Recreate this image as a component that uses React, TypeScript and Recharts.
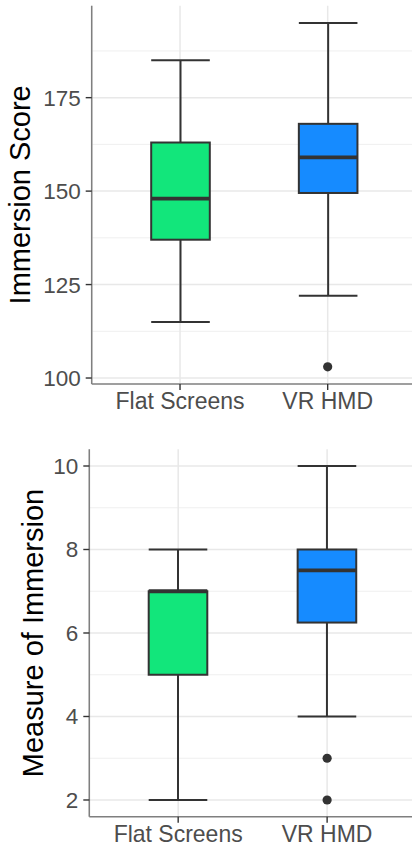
import { ComposedChart, Bar, XAxis, YAxis, CartesianGrid, ReferenceDot } from "recharts";

const groups = ["Flat Screens", "VR HMD"];
const boxFills = ["#12E67B", "#168BFF"];

// top panel: Immersion Score
const scoreLow = [115, 122];
const scoreQ1 = [137, 149.5];
const scoreMedian = [148, 159];
const scoreQ3 = [163, 168];
const scoreHigh = [185, 195];
const scoreOutliers = [[], [103]];
const scoreTicks = [100, 125, 150, 175];
const scoreMinor = [112.5, 137.5, 162.5, 187.5];

// bottom panel: Measure of Immersion
const measureLow = [2, 4];
const measureQ1 = [5, 6.25];
const measureMedian = [7, 7.5];
const measureQ3 = [7, 8];
const measureHigh = [8, 10];
const measureOutliers = [[], [3, 2]];
const measureTicks = [2, 4, 6, 8, 10];
const measureMinor = [3, 5, 7, 9];

const INK = "#333333";
const BORDER = "#7f7f7f";

function buildRows(low: number[], q1: number[], med: number[], q3: number[], high: number[]) {
  return groups.map((g, i) => ({
    group: g,
    low: low[i],
    q1: q1[i],
    median: med[i],
    q3: q3[i],
    high: high[i],
  }));
}

function BoxShape(props: any) {
  const { x, y, width, height, payload } = props;
  const idx = groups.indexOf(payload.group);
  const top = Math.min(y, y + height);
  const bottom = Math.max(y, y + height);
  const span = payload.high - payload.low;
  // linear map inside the bar's own low..high pixel range
  const py = (v: number) => bottom - ((v - payload.low) / span) * (bottom - top);
  const cx = x + width / 2;
  const yq3 = py(payload.q3);
  const yq1 = py(payload.q1);
  return (
    <g>
      <line x1={cx} x2={cx} y1={py(payload.high)} y2={yq3} stroke={INK} strokeWidth={2} />
      <line x1={cx} x2={cx} y1={yq1} y2={py(payload.low)} stroke={INK} strokeWidth={2} />
      <line x1={x} x2={x + width} y1={py(payload.high)} y2={py(payload.high)} stroke={INK} strokeWidth={2} />
      <line x1={x} x2={x + width} y1={py(payload.low)} y2={py(payload.low)} stroke={INK} strokeWidth={2} />
      <rect x={x} y={yq3} width={width} height={yq1 - yq3} fill={boxFills[idx]} stroke={INK} strokeWidth={2} />
      <line x1={x} x2={x + width} y1={py(payload.median)} y2={py(payload.median)} stroke={INK} strokeWidth={3.8} />
    </g>
  );
}

interface PanelProps {
  rows: ReturnType<typeof buildRows>;
  outliers: number[][];
  domain: [number, number];
  ticks: number[];
  minor: number[];
  title: string;
  titleX: number;
  axisWidth: number;
  top: number;
  height: number;
  marginTop: number;
  padX: number;
}

function Panel({ rows, outliers, domain, ticks, minor, title, titleX, axisWidth, top, height, marginTop, padX }: PanelProps) {
  return (
    <div style={{ position: "absolute", left: 0, top, width: 412, height, overflow: "hidden" }}>
      <ComposedChart width={418} height={height} data={rows} margin={{ top: marginTop, right: 2, bottom: 0, left: 0 }}>
        <CartesianGrid horizontalValues={minor} vertical={false} stroke="#efefef" strokeWidth={1} />
        <CartesianGrid horizontalValues={ticks} stroke="#e8e8e8" strokeWidth={1.5} />
        <XAxis
          dataKey="group"
          padding={{ left: padX, right: padX }}
          tickSize={6}
          tickMargin={3}
          height={30}
          tick={{ fontSize: 23, fill: "#4d4d4d" }}
          tickLine={{ stroke: INK, strokeWidth: 1.4 }}
          axisLine={{ stroke: BORDER, strokeWidth: 1.5 }}
        />
        <XAxis
          xAxisId="top"
          orientation="top"
          dataKey="group"
          padding={{ left: padX, right: padX }}
          height={0}
          tick={false}
          tickLine={false}
          axisLine={{ stroke: BORDER, strokeWidth: 1.5 }}
        />
        <YAxis
          type="number"
          domain={domain}
          ticks={ticks}
          allowDataOverflow
          width={axisWidth}
          tickSize={6}
          tickMargin={5}
          tick={{ fontSize: 22.5, fill: "#4d4d4d" }}
          tickLine={{ stroke: INK, strokeWidth: 1.4 }}
          axisLine={{ stroke: BORDER, strokeWidth: 1.5 }}
          label={{
            value: title,
            angle: -90,
            position: "insideLeft",
            offset: titleX,
            style: { textAnchor: "middle", fontSize: 29, fill: "#000000" },
          }}
        />
        <Bar dataKey={(d: any) => [d.low, d.high]} barSize={58.6} shape={BoxShape} isAnimationActive={false} />
        {rows.map((r, i) =>
          outliers[i].map((v, j) => (
            <ReferenceDot key={`${i}-${j}`} x={r.group} y={v} r={4.6} fill={INK} stroke="none" />
          ))
        )}
      </ComposedChart>
    </div>
  );
}

const scoreRows = buildRows(scoreLow, scoreQ1, scoreMedian, scoreQ3, scoreHigh);
const measureRows = buildRows(measureLow, measureQ1, measureMedian, measureQ3, measureHigh);

export default function App() {
  return (
    <div style={{ position: "absolute", left: 0, top: 0, width: 412, height: 847, background: "#fff", fontFamily: "'Liberation Sans', Arial, sans-serif" }}>
      <Panel
        rows={scoreRows}
        outliers={scoreOutliers}
        domain={[98.4, 199.6]}
        ticks={scoreTicks}
        minor={scoreMinor}
        title="Immersion Score"
        titleX={20}
        axisWidth={91.7}
        top={0}
        height={414}
        marginTop={5.7}
        padX={14.5}
      />
      <Panel
        rows={measureRows}
        outliers={measureOutliers}
        domain={[1.6, 10.4]}
        ticks={measureTicks}
        minor={measureMinor}
        title="Measure of Immersion"
        titleX={33}
        axisWidth={89.3}
        top={440}
        height={406.7}
        marginTop={9.3}
        padX={14.4}
      />
    </div>
  );
}
